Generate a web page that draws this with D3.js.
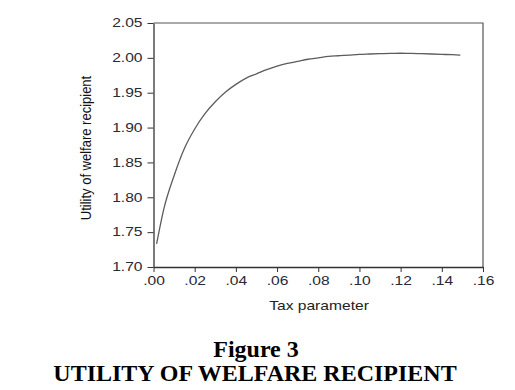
<!DOCTYPE html>
<html>
<head>
<meta charset="utf-8">
<script src="https://cdn.jsdelivr.net/npm/d3@7"></script>
<style>
  body { margin: 0; background: #fff; }
  .axis text { font-family: "Liberation Sans", Arial, sans-serif; font-size: 12px; fill: #2a2a35; }
  .axis path, .axis line { stroke: #333; }
</style>
</head>
<body>
<div class="chart"></div>
<script>
// tax parameter vs utility
var taxParam = [0.0015, 0.005, 0.010, 0.015, 0.020, 0.025, 0.030, 0.035, 0.040, 0.045,
                0.050, 0.055, 0.060, 0.065, 0.070, 0.075, 0.080, 0.085, 0.090, 0.095,
                0.100, 0.105, 0.110, 0.115, 0.120, 0.125, 0.130, 0.135, 0.140, 0.145, 0.149];
var utility = [1.733, 1.783, 1.831, 1.870, 1.898, 1.920, 1.937, 1.951, 1.962, 1.971,
               1.977, 1.983, 1.988, 1.992, 1.995, 1.998, 2.000, 2.002, 2.003, 2.004,
               2.005, 2.0055, 2.006, 2.0065, 2.0066, 2.0065, 2.006, 2.0055, 2.005, 2.0045, 2.004];
var xTicks = [0, 0.02, 0.04, 0.06, 0.08, 0.10, 0.12, 0.14, 0.16];
var yTicks = [1.70, 1.75, 1.80, 1.85, 1.90, 1.95, 2.00, 2.05];

const plotLeft = 153.5, plotRight = 483, plotTop = 23, plotBottom = 267;
const stretch = 1.3;  // the source chart is squashed wide

const svg = d3.select('.chart')
    .append('svg')
        .attr('width', 515)
        .attr('height', 390);

const x = d3.scaleLinear().domain([0, 0.16]).range([plotLeft, plotRight]);
const y = d3.scaleLinear().domain([1.70, 2.05]).range([plotBottom, plotTop]);

// frame top and right
svg.append('path')
    .attr('d', 'M' + plotLeft + ',' + plotTop + 'H' + plotRight + 'V' + plotBottom)
    .attr('fill', 'none')
    .attr('stroke', '#555')
    .attr('stroke-width', 1.2);

const xAxis = svg.append('g')
    .attr('class', 'axis')
    .attr('transform', 'translate(0,' + plotBottom + ')')
    .call(d3.axisBottom(x).tickValues(xTicks).tickSize(5).tickPadding(4)
        .tickSizeOuter(0)
        .tickFormat(d => d3.format('.2f')(d).replace(/^0/, '')));

const yAxis = svg.append('g')
    .attr('class', 'axis')
    .attr('transform', 'translate(' + plotLeft + ',0)')
    .call(d3.axisLeft(y).tickValues(yTicks).tickSize(6).tickPadding(5)
        .tickSizeOuter(0)
        .tickFormat(d3.format('.2f')));

svg.selectAll('.axis path').attr('stroke-width', 1.3);
xAxis.selectAll('text').attr('transform', 'scale(' + stretch + ',1)');
yAxis.selectAll('text')
    .attr('x', -11 / stretch)
    .attr('transform', 'scale(' + stretch + ',1)');

const line = d3.line()
    .x((d, i) => x(taxParam[i]))
    .y(d => y(d))
    .curve(d3.curveMonotoneX);

svg.append('path')
    .datum(utility)
    .attr('d', line)
    .attr('fill', 'none')
    .attr('stroke', '#5c5c5c')
    .attr('stroke-width', 1.3);

// axis titles
svg.append('text')
    .text('Tax parameter')
    .attr('transform', 'translate(319,310) scale(' + stretch + ',1)')
    .attr('text-anchor', 'middle')
    .style('font-family', '"Liberation Sans", Arial, sans-serif')
    .style('font-size', '12px')
    .style('fill', '#222');

svg.append('text')
    .text('Utility of welfare recipient')
    .attr('transform', 'translate(91,148) scale(1.15,1) rotate(-90)')
    .attr('text-anchor', 'middle')
    .style('font-family', '"Liberation Sans", Arial, sans-serif')
    .style('font-size', '13px')
    .style('fill', '#111');

// caption
svg.append('text')
    .text('Figure 3')
    .attr('x', 256)
    .attr('y', 357)
    .attr('text-anchor', 'middle')
    .style('font-family', '"Liberation Serif", "Times New Roman", serif')
    .style('font-weight', 'bold')
    .style('font-size', '24px');

svg.append('text')
    .text('UTILITY OF WELFARE RECIPIENT')
    .attr('x', 255)
    .attr('y', 381)
    .attr('text-anchor', 'middle')
    .style('font-family', '"Liberation Serif", "Times New Roman", serif')
    .style('font-weight', 'bold')
    .style('font-size', '24px');
</script>
</body>
</html>
